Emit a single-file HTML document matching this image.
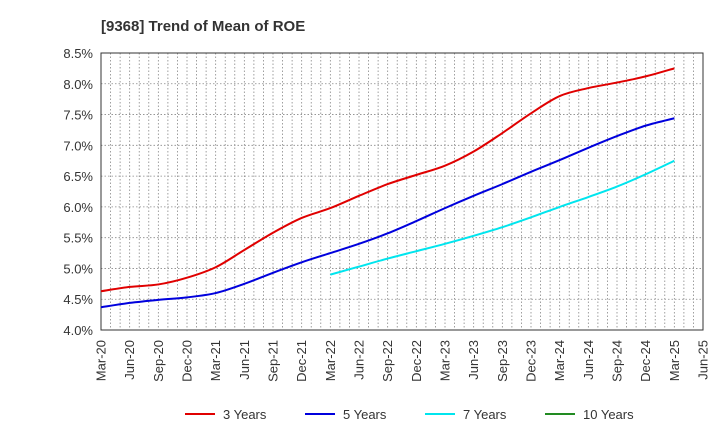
<!DOCTYPE html>
<html><head><meta charset="utf-8"><style>
body{margin:0;background:#fff;width:720px;height:440px;overflow:hidden;font-family:"Liberation Sans",sans-serif}
</style></head><body>
<svg id="c" width="720" height="440"></svg>
<script>
const categories=["Mar-20","Jun-20","Sep-20","Dec-20","Mar-21","Jun-21","Sep-21","Dec-21","Mar-22","Jun-22","Sep-22","Dec-22","Mar-23","Jun-23","Sep-23","Dec-23","Mar-24","Jun-24","Sep-24","Dec-24","Mar-25","Jun-25"];
const yTicks=[4.0,4.5,5.0,5.5,6.0,6.5,7.0,7.5,8.0,8.5];
const s3=[4.63,4.70,4.74,4.85,5.02,5.30,5.58,5.82,5.98,6.18,6.37,6.52,6.67,6.90,7.20,7.52,7.80,7.93,8.02,8.12,8.25];
const s5=[4.37,4.44,4.49,4.53,4.60,4.75,4.93,5.10,5.25,5.40,5.57,5.77,5.98,6.18,6.37,6.57,6.76,6.96,7.15,7.32,7.44];
const s7=[4.90,5.03,5.16,5.28,5.40,5.53,5.67,5.83,6.00,6.16,6.33,6.53,6.75];
const s7Start=8;
const s10=[];
const NS="http://www.w3.org/2000/svg",svg=document.getElementById('c');
const L=101,R=703,T=53,B=330,Q=(R-L)/21;
const x=i=>L+i*Q, y=v=>B-(v-4)/4.5*(B-T);
function el(t,a,p){const e=document.createElementNS(NS,t);for(const k in a)e.setAttribute(k,a[k]);(p||svg).appendChild(e);return e;}
const title=el('text',{x:101,y:31,'font-size':15,'font-weight':'bold',fill:'#333'});title.textContent='[9368]  Trend of Mean of ROE';


for(let m=1;m<63;m++){const g=el('line',{x1:L+m*Q/3,x2:L+m*Q/3,y1:T,y2:B,stroke:'#888','stroke-width':0.8,'stroke-dasharray':'1.5,2'});

}
yTicks.forEach(v=>{const g=el('line',{x1:L,x2:R,y1:y(v),y2:y(v),stroke:'#888','stroke-width':0.8,'stroke-dasharray':'1.5,2'});


const t=el('text',{x:L-8,y:y(v)+5,'text-anchor':'end','font-size':13,fill:'#333'});t.textContent=v.toFixed(1)+'%';

});
categories.forEach((c,i)=>{const t=el('text',{transform:`translate(${x(i)+4.5},${B+10}) rotate(-90)`,'text-anchor':'end','font-size':13,fill:'#333'});t.textContent=c;

});
const frame=el('rect',{x:L,y:T,width:R-L,height:B-T,fill:'none',stroke:'#333','stroke-width':1});


function path(vals,start){const p=vals.map((v,i)=>[x(i+start),y(v)]);let d=`M${p[0][0]},${p[0][1]}`;
for(let i=0;i<p.length-1;i++){const p0=p[i-1]||p[i],p1=p[i],p2=p[i+1],p3=p[i+2]||p2;
d+=`C${p1[0]+(p2[0]-p0[0])/6},${p1[1]+(p2[1]-p0[1])/6} ${p2[0]-(p3[0]-p1[0])/6},${p2[1]-(p3[1]-p1[1])/6} ${p2[0]},${p2[1]}`;}return d;}
[[s3,0,'#e00000','line-3-years'],[s5,0,'#0000dd','line-5-years'],[s7,s7Start,'#00e5ee','line-7-years']].forEach(([v,s,c,n])=>{
const p=el('path',{d:path(v,s),fill:'none',stroke:c,'stroke-width':2});

});
[['3 Years','#e00000',185],['5 Years','#0000dd',305],['7 Years','#00e5ee',425],['10 Years','#228b22',545]].forEach(([lab,c,lx])=>{
const g=el('g',{});


el('line',{x1:lx,x2:lx+30,y1:414,y2:414,stroke:c,'stroke-width':2},g);
const t=el('text',{x:lx+38,y:419,'font-size':13,fill:'#333'},g);t.textContent=lab;});
</script>
</body></html>
